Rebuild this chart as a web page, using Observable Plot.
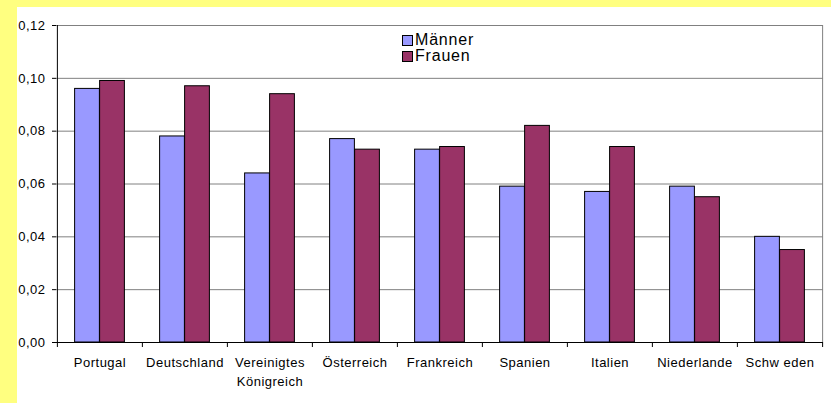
<!DOCTYPE html>
<html>
<head>
<meta charset="utf-8">
<script src="https://cdn.jsdelivr.net/npm/d3@7"></script>
<script src="https://cdn.jsdelivr.net/npm/@observablehq/plot@0.6"></script>
<style>
  html, body { margin: 0; padding: 0; background: #ffffff; }
  #wrap { position: relative; width: 831px; height: 403px; overflow: hidden; background: #ffffff; font-family: "Liberation Sans", Arial, sans-serif; }
  .band { position: absolute; background: #FFFF80; }
  #chart { position: absolute; left: 0; top: 0; }
  #chart text { letter-spacing: 0.5px; }
  #legend { position: absolute; left: 402px; top: 32px; font-size: 16px; line-height: 16px; color: #000; letter-spacing: 0.8px; }
  .row { display: flex; align-items: center; height: 16px; }
  .sw { width: 9px; height: 9px; border: 1px solid #000; margin-right: 2px; }
</style>
</head>
<body>
<div id="wrap">
  <div class="band" style="left:0;top:0;width:831px;height:7px"></div>
  <div class="band" style="left:0;top:0;width:17px;height:403px"></div>
  <div id="chart"></div>
  <div id="legend"></div>
</div>
<script>
const countries = ["Portugal", "Deutschland", "Vereinigtes\nKönigreich", "Österreich", "Frankreich", "Spanien", "Italien", "Niederlande", "Schw eden"];
const maenner = [0.096, 0.078, 0.064, 0.077, 0.073, 0.059, 0.057, 0.059, 0.040];
const frauen  = [0.099, 0.097, 0.094, 0.073, 0.074, 0.082, 0.074, 0.055, 0.035];
const yTicks = [0, 0.02, 0.04, 0.06, 0.08, 0.10, 0.12];
const seriesNames = ["Männer", "Frauen"];
const seriesColors = ["#9999FF", "#993366"];

const data = countries.map((c, i) => ({country: c, m: maenner[i], f: frauen[i]}));

const W = 831, H = 403, mL = 56, mR = 8, mT = 25, mB = 61;
const bw = (W - mL - mR) / countries.length;
const barW = 25;
const side = (bw - 2 * barW) / 2;
const last = countries[countries.length - 1];

const chart = Plot.plot({
  width: W, height: H,
  marginLeft: mL, marginRight: mR, marginTop: mT, marginBottom: mB,
  style: {background: "transparent", fontFamily: "'Liberation Sans', Arial, sans-serif", fontSize: "13px", color: "#000"},
  x: {domain: countries, padding: 0, axis: null},
  y: {domain: [0, 0.12], axis: null},
  marks: [
    Plot.ruleY(yTicks.slice(1), {stroke: "#808080", strokeOpacity: 1}),
    Plot.ruleX([last], {dx: bw / 2, stroke: "#808080", strokeOpacity: 1}),
    Plot.barY(data, {x: "country", y: "m", fill: seriesColors[0], stroke: "#000", strokeWidth: 1, insetLeft: side, insetRight: side + barW}),
    Plot.barY(data, {x: "country", y: "f", fill: seriesColors[1], stroke: "#000", strokeWidth: 1, insetLeft: side + barW, insetRight: side}),
    Plot.ruleX([countries[0]], {dx: -bw / 2, stroke: "#000"}),
    Plot.ruleY([0], {stroke: "#000"}),
    Plot.ruleX(countries, {x: d => d, y1: 0, y2: 0, insetBottom: -5, dx: -bw / 2, stroke: "#000"}),
    Plot.ruleX([last], {x: d => d, y1: 0, y2: 0, insetBottom: -5, dx: bw / 2, stroke: "#000"}),
    Plot.axisY({ticks: yTicks, tickSize: 4, tickPadding: 7, tickFormat: d => d.toFixed(2).replace(".", ","), label: null, fontSize: 13, stroke: "#000"}),
    Plot.text(countries, {x: d => d, frameAnchor: "bottom", dy: 10, lineAnchor: "top", lineHeight: 1.52, fontSize: 13, fill: "#000"})
  ]
});
document.getElementById("chart").appendChild(chart);

const legend = document.getElementById("legend");
seriesNames.forEach((n, i) => {
  const row = document.createElement("div");
  row.className = "row";
  const sw = document.createElement("div");
  sw.className = "sw";
  sw.style.background = seriesColors[i];
  const t = document.createElement("span");
  t.textContent = n;
  row.appendChild(sw);
  row.appendChild(t);
  legend.appendChild(row);
});
</script>
</body>
</html>
